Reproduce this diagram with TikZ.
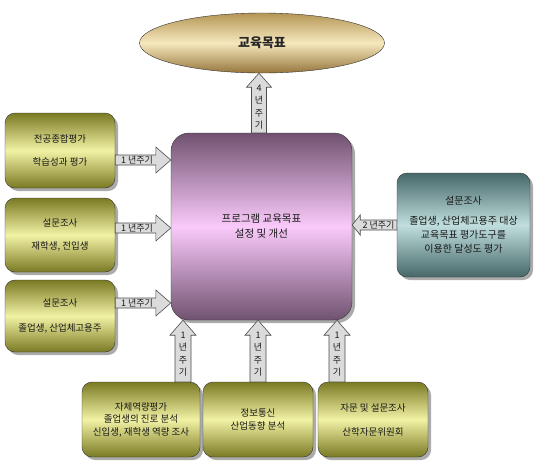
\documentclass[tikz,border=0pt]{standalone}
\usepackage{fontspec}
\setmainfont{Noto Sans CJK KR}
\usetikzlibrary{shapes.geometric,shadows,calc}
\definecolor{olD}{RGB}{122,122,36}
\definecolor{olL}{RGB}{242,242,165}
\definecolor{puD}{RGB}{112,82,112}
\definecolor{puL}{RGB}{250,202,250}
\definecolor{goD}{RGB}{180,150,85}
\definecolor{goB}{RGB}{150,118,60}
\definecolor{goL}{RGB}{246,232,190}
\definecolor{teD}{RGB}{70,104,104}
\definecolor{teL}{RGB}{192,222,222}
\newcommand\blockarrow[5]{%
  \coordinate (ba-h) at ($(#2)!#5!(#1)$);
  \draw[arrowbox] ($(#1)!#3!90:(#2)$) -- ($(ba-h)!#3!90:(#2)$) -- ($(ba-h)!#4!90:(#2)$) -- (#2)
    -- ($(ba-h)!#4!-90:(#2)$) -- ($(ba-h)!#3!-90:(#2)$) -- ($(#1)!#3!-90:(#2)$) -- cycle;}
\begin{document}
\begin{tikzpicture}[x=1pt,y=-1pt,
  box/.style={draw=black!80, rounded corners=10pt, align=center,
    font=\fontsize{9.5}{11}\selectfont, text=black!90, inner sep=0pt,
    drop shadow={shadow xshift=3pt,shadow yshift=-3pt,fill=black!55,opacity=0.6}},
  olivebox/.style={box, top color=olD, bottom color=olD, middle color=olL},
  arrowbox/.style={draw=black!70, fill=black!14, line width=0.6pt, line join=miter},
  hlabel/.style={font=\fontsize{9}{10}\selectfont, text=black!90, inner sep=0pt},
  vlabel/.style={font=\fontsize{9}{12.5}\selectfont, text=black!90, inner sep=0pt, align=center}]
\useasboundingbox (0,0) rectangle (536,464);

% nodes
\node[draw=black!80, ellipse, minimum width=245pt, minimum height=60pt,
  top color=goD, bottom color=goB, middle color=goL,
  font=\fontsize{13}{15}\selectfont\bfseries, text=black!85] (goal) at (262,43) {교육목표};
\node[box, rounded corners=18pt, minimum width=181pt, minimum height=187pt,
  top color=puD, bottom color=puD, middle color=puL,
  font=\fontsize{10.5}{15}\selectfont] (main) at (261.5,226.5) {프로그램 교육목표\\설정 및 개선};

\node[olivebox, minimum width=110pt, minimum height=75pt] (l1) at (60,150.5) {전공종합평가\\[12pt]학습성과 평가};
\node[olivebox, minimum width=110pt, minimum height=74pt] (l2) at (60,235) {설문조사\\[12pt]재학생, 전입생};
\node[olivebox, minimum width=110pt, minimum height=72pt] (l3) at (60,316) {설문조사\\[14pt]졸업생, 산업체고용주};

\node[box, minimum width=133pt, minimum height=104pt, font=\fontsize{10}{12}\selectfont,
  top color=teD, bottom color=teD, middle color=teL] (r1) at (463.5,225)
  {설문조사\\[8pt]졸업생, 산업체고용주 대상\\[2pt]교육목표 평가도구를\\[2pt]이용한 달성도 평가};

\node[olivebox, minimum width=118pt, minimum height=75pt, font=\fontsize{9.5}{12.5}\selectfont] (b1) at (141,419.5)
  {자체역량평가\\졸업생의 진로 분석\\신입생, 재학생 역량 조사};
\node[olivebox, minimum width=110pt, minimum height=75pt, font=\fontsize{9.5}{12.5}\selectfont] (b2) at (258,419.5)
  {정보통신\\산업동향 분석};
\node[olivebox, minimum width=110pt, minimum height=75pt] (b3) at (373,419.5)
  {자문 및 설문조사\\[13pt]산학자문위원회};

% helper coordinates
\coordinate (ya) at (0,160);
\coordinate (yb) at (0,228);
\coordinate (yc) at (0,303);
\coordinate (xa) at (183,0);
\coordinate (xb) at (258,0);
\coordinate (xc) at (337,0);
\coordinate (xt) at (259,0);

% connectors
\blockarrow{main.north -| xt}{goal.south -| xt}{7.5pt}{12.5pt}{14pt}
\node[vlabel] at ($(main.north -| xt)!0.5!(goal.south -| xt)+(0,4)$) {4\\년\\주\\기};

\blockarrow{l1.east |- ya}{main.west |- ya}{5pt}{13pt}{15pt}
\node[hlabel] at ($(l1.east |- ya)!0.5!(main.west |- ya)+(-6,0)$) {1 년주기};
\blockarrow{l2.east |- yb}{main.west |- yb}{5pt}{13pt}{15pt}
\node[hlabel] at ($(l2.east |- yb)!0.5!(main.west |- yb)+(-6,0)$) {1 년주기};
\blockarrow{l3.east |- yc}{main.west |- yc}{5pt}{13pt}{15pt}
\node[hlabel] at ($(l3.east |- yc)!0.5!(main.west |- yc)+(-6,0)$) {1 년주기};

\blockarrow{r1.west}{main.east |- r1.west}{5pt}{10pt}{8pt}
\node[hlabel] at ($(r1.west)!0.5!(main.east |- r1.west)+(4,0)$) {2 년주기};

\blockarrow{b1.north -| xa}{main.south -| xa}{8pt}{13pt}{15pt}
\node[vlabel] at ($(b1.north -| xa)!0.5!(main.south -| xa)+(0,3)$) {1\\년\\주\\기};
\blockarrow{b2.north -| xb}{main.south -| xb}{8pt}{13pt}{15pt}
\node[vlabel] at ($(b2.north -| xb)!0.5!(main.south -| xb)+(0,3)$) {1\\년\\주\\기};
\blockarrow{b3.north -| xc}{main.south -| xc}{8pt}{13pt}{15pt}
\node[vlabel] at ($(b3.north -| xc)!0.5!(main.south -| xc)+(0,3)$) {1\\년\\주\\기};
\end{tikzpicture}
\end{document}
